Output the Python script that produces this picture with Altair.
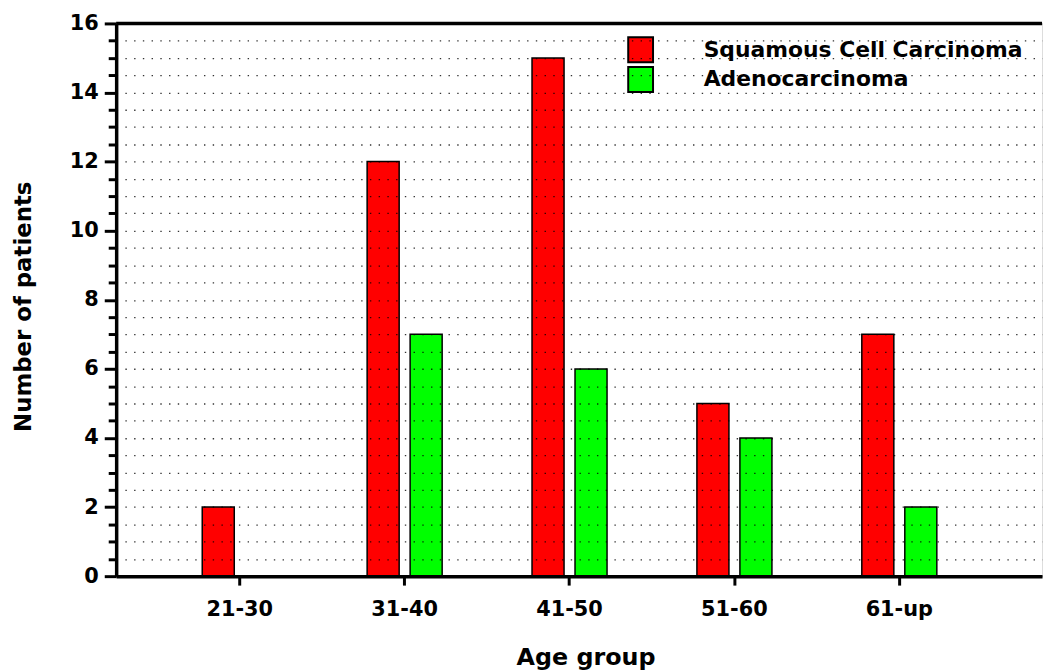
import altair as alt
import pandas as pd

age_groups = ["21-30", "31-40", "41-50", "51-60", "61-up"]
series_names = ["Squamous Cell Carcinoma", "Adenocarcinoma"]
squamous = [2, 12, 15, 5, 7]
adeno = [0, 7, 6, 4, 2]
series_colors = ["#ff0000", "#00ff00"]
y_tick_values = [i * 0.5 for i in range(33)]
top_value = [16]

rows = []
for g, s, a in zip(age_groups, squamous, adeno):
    rows.append({"age": g, "type": series_names[0], "n": s})
    if a > 0:
        rows.append({"age": g, "type": series_names[1], "n": a})
df = pd.DataFrame(rows)

FONT = "DejaVu Sans"

y_scale = alt.Scale(domain=[0, 16], nice=False, zero=True)
y_axis = alt.Axis(
    title="Number of patients",
    titleFont=FONT, titleFontSize=23, titleFontWeight="bold", titleColor="black",
    titlePadding=34, titleY=285,
    values=y_tick_values,
    labelExpr="datum.value % 2 === 0 ? format(datum.value, 'd') : ''",
    labelFont=FONT, labelFontSize=21, labelFontWeight="bold", labelColor="black",
    labelPadding=6,
    domainColor="black", domainWidth=3.5,
    tickColor="black", tickWidth=3,
    tickSize={"condition": {"test": "datum.value % 2 === 0", "value": 12}, "value": 8},
    grid=True, gridColor="black", gridDash=[1.4, 7.4], gridWidth=1.3, gridOpacity=0.8,
    zindex=1,
)

bars = alt.Chart(df).mark_bar(stroke="black", strokeWidth=1.5, opacity=1).encode(
    x=alt.X(
        "age:N",
        sort=age_groups,
        scale=alt.Scale(paddingInner=0.545, paddingOuter=0.58, align=0.45),
        axis=alt.Axis(
            title="Age group",
            titleFont=FONT, titleFontSize=24, titleFontWeight="bold", titleColor="black",
            titlePadding=26, titleX=473,
            labelFont=FONT, labelFontSize=21, labelFontWeight="bold", labelColor="black",
            labelAngle=0, labelPadding=14,
            domainColor="black", domainWidth=3.5,
            tickColor="black", tickWidth=3, tickSize=9,
            grid=False, zindex=1,
        ),
    ),
    xOffset=alt.XOffset("type:N", sort=series_names,
                        scale=alt.Scale(paddingInner=0.255, paddingOuter=0)),
    y=alt.Y("n:Q", scale=y_scale, axis=y_axis),
    color=alt.Color(
        "type:N",
        sort=series_names,
        scale=alt.Scale(domain=series_names, range=series_colors),
        legend=alt.Legend(
            title=None, orient="none", legendX=515, legendY=13,
            symbolType="square", symbolSize=625, symbolStrokeColor="black",
            symbolStrokeWidth=2, symbolOpacity=1,
            labelFont=FONT, labelFontSize=22, labelFontWeight="bold", labelColor="black",
            labelOffset=50, labelLimit=0, rowPadding=-3, padding=0,
        ),
    ),
)

top_line = alt.Chart(pd.DataFrame({"v": top_value})).mark_rule(
    color="black", strokeWidth=3.5
).encode(y=alt.Y("v:Q", scale=y_scale, axis=y_axis))

chart = alt.layer(bars, top_line).properties(
    width=933, height=557,
    autosize=alt.AutoSizeParams(type="none"),
    padding={"left": 109, "top": 13, "right": 4, "bottom": 92},
).configure_view(stroke=None).configure(background="white")

chart.save("out.html", embed_options={"renderer": "svg", "actions": False})
